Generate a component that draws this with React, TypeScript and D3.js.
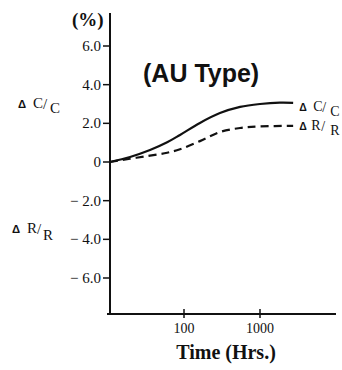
import React from "react";
import * as d3 from "d3";

const timesC = [10.6, 19.5, 35.7, 60, 88.6, 162, 297, 547, 1000, 1830, 2730];
const deltaC = [0, 0.26, 0.62, 1.02, 1.4, 2.02, 2.53, 2.85, 3.0, 3.07, 3.06];
const timesR = [10.6, 19.5, 35.7, 60, 88.6, 162, 297, 547, 1000, 2730];
const deltaR = [0, 0.17, 0.33, 0.48, 0.66, 1.08, 1.55, 1.76, 1.84, 1.87];
const yTicks = [6, 4, 2, 0, -2, -4, -6];
const yTickLabels = ["6.0", "4.0", "2.0", "0", "− 2.0", "− 4.0", "− 6.0"];
const xTicks = [100, 1000];
const xTickLabels = ["100", "1000"];

const W = 342;
const H = 370;
const serif = "'Liberation Serif', 'Times New Roman', serif";
const sans = "'Liberation Sans', Arial, sans-serif";

export default function App() {
  const x = d3.scaleLog().domain([10, 10000]).range([108, 336]);
  const y = d3.scaleLinear().domain([-6, 6]).range([278, 46]);
  const axisX = 110;
  const axisTop = 13;
  const axisBottom = 314;

  const line = d3
    .line<[number, number]>()
    .x((d) => x(d[0]))
    .y((d) => y(d[1]))
    .curve(d3.curveCatmullRom.alpha(0.5));

  const cPath = line(timesC.map((t, i) => [t, deltaC[i]] as [number, number])) || "";
  const rPath = line(timesR.map((t, i) => [t, deltaR[i]] as [number, number])) || "";

  const endX = x(timesC[timesC.length - 1]);

  const frac = (
    xx: number,
    yy: number,
    a: string,
    size: number,
    drop: number,
    o: [number, number, number]
  ) => (
    <g fill="#111">
      <text x={xx} y={yy} fontFamily={sans} fontWeight="bold" fontSize={size * 0.75}>
        Δ
      </text>
      <text x={xx + o[0]} y={yy} fontFamily={serif} fontSize={size}>
        {a}
      </text>
      <text x={xx + o[1]} y={yy + 1} fontFamily={serif} fontSize={size}>
        /
      </text>
      <text x={xx + o[2]} y={yy + drop} fontFamily={serif} fontSize={size}>
        {a}
      </text>
    </g>
  );

  return (
    <svg
      width={W}
      height={H}
      style={{ position: "absolute", left: 0, top: 0, background: "#fff" }}
    >
      {/* axes */}
      <line x1={axisX} x2={axisX} y1={axisTop} y2={axisBottom} stroke="#111" strokeWidth={2} />
      <line x1={107} x2={336} y1={axisBottom} y2={axisBottom} stroke="#111" strokeWidth={2} />

      {/* y ticks */}
      {yTicks.map((v, i) => (
        <g key={v}>
          <line x1={103} x2={axisX} y1={y(v)} y2={y(v)} stroke="#111" strokeWidth={1.5} />
          <text
            x={101}
            y={y(v) + 5}
            textAnchor="end"
            fontFamily={serif}
            fontSize={15}
            fill="#111"
          >
            {yTickLabels[i]}
          </text>
        </g>
      ))}

      {/* x ticks */}
      {xTicks.map((v, i) => (
        <g key={v}>
          <line x1={x(v)} x2={x(v)} y1={axisBottom - 5} y2={axisBottom + 4} stroke="#111" strokeWidth={1.5} />
          <text
            x={x(v)}
            y={333}
            textAnchor="middle"
            fontFamily={serif}
            fontSize={14}
            fill="#111"
          >
            {xTickLabels[i]}
          </text>
        </g>
      ))}

      {/* curves */}
      <path d={cPath} fill="none" stroke="#111" strokeWidth={2.2} />
      <path d={rPath} fill="none" stroke="#111" strokeWidth={2.2} strokeDasharray="8,5" />

      {/* labels */}
      <text x={72} y={26} fontFamily={serif} fontWeight="bold" fontSize={19} fill="#111">
        (%)
      </text>
      <text x={143} y={82} fontFamily={sans} fontWeight="bold" fontSize={25} fill="#111">
        (AU Type)
      </text>
      <text
        x={226}
        y={359}
        textAnchor="middle"
        fontFamily={serif}
        fontWeight="bold"
        fontSize={20}
        fill="#111"
      >
        Time (Hrs.)
      </text>

      {frac(18, 108, "C", 15, 5, [15, 25, 32])}
      {frac(12, 233, "R", 15, 7, [15, 25, 31])}
      {frac(endX + 6, 111, "C", 14, 5, [14, 23, 31])}
      {frac(endX + 6, 130, "R", 14, 5, [12, 22, 31])}
    </svg>
  );
}
